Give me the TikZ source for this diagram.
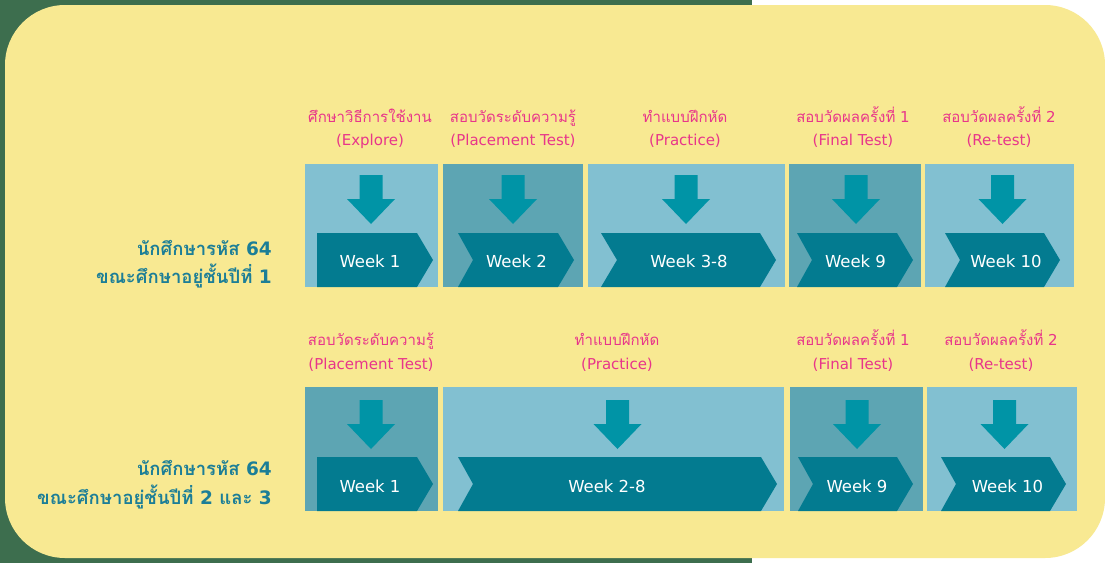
\documentclass[tikz,border=0pt]{standalone}
\usepackage{fontspec}
\setmainfont{DejaVu Sans}
\newfontfamily\thaifont[Script=Thai]{Loma}
\newcommand\thx[1]{{\thaifont #1}}
\definecolor{bgreen}{HTML}{3D6E4E}
\definecolor{byellow}{HTML}{F8E992}
\definecolor{lightp}{HTML}{82C0D1}
\definecolor{darkp}{HTML}{5DA5B3}
\definecolor{chevcol}{HTML}{037B90}
\definecolor{arrcol}{HTML}{0094A6}
\definecolor{pinkt}{HTML}{E8358A}
\definecolor{tealt}{HTML}{1C7E97}
\newcommand\mychev[5]{% left, notch, right, top, bottom
  \fill[chevcol] (#1,#4) -- (#3,#4) -- ({#3+16},{(#4+#5)/2}) -- (#3,#5) -- (#1,#5) -- ({#1+#2},{(#4+#5)/2}) -- cycle;}
\newcommand\myarrow[2]{% center x, top y
  \fill[arrcol] ({#1-11.5},#2) -- ({#1+11.5},#2) -- ({#1+11.5},{#2+24}) -- ({#1+24},{#2+24}) -- (#1,{#2+49}) -- ({#1-24},{#2+24}) -- ({#1-11.5},{#2+24}) -- cycle;}
\tikzset{
  panel/.style={anchor=north west, inner sep=0pt, outer sep=0pt},
  pinklbl/.style={anchor=base, inner sep=0pt, text=pinkt, font=\fontsize{15}{17}\selectfont},
  weektxt/.style={anchor=base, inner sep=0pt, text=white, font=\fontsize{16.5}{20}\selectfont},
  lefttxt/.style={anchor=base east, inner sep=0pt, text=tealt, font=\bfseries\fontsize{18.5}{20}\selectfont},
}
\begin{document}
\begin{tikzpicture}[x=1pt,y=-1pt]
\useasboundingbox (0,0) rectangle (1105,563);
\fill[bgreen] (0,0) rectangle (752,563);
\fill[white] (752,0) rectangle (1105,563);
\fill[byellow, rounded corners=60pt] (5,5) rectangle (1105,558);

% row 1 panels
\node[panel, fill=lightp, minimum width=133pt, minimum height=123pt] (a1) at (305,164) {};
\node[panel, fill=darkp, minimum width=140pt, minimum height=123pt] (a2) at (443,164) {};
\node[panel, fill=lightp, minimum width=197pt, minimum height=123pt] (a3) at (588,164) {};
\node[panel, fill=darkp, minimum width=132pt, minimum height=123pt] (a4) at (789,164) {};
\node[panel, fill=lightp, minimum width=149pt, minimum height=123pt] (a5) at (925,164) {};
% row 2 panels
\node[panel, fill=darkp, minimum width=133pt, minimum height=124pt] (b1) at (305,387) {};
\node[panel, fill=lightp, minimum width=341pt, minimum height=124pt] (b2) at (443,387) {};
\node[panel, fill=darkp, minimum width=133pt, minimum height=124pt] (b3) at (790,387) {};
\node[panel, fill=lightp, minimum width=150pt, minimum height=124pt] (b4) at (927,387) {};

% arrows
\myarrow{371}{175}
\myarrow{513}{175}
\myarrow{686}{175}
\myarrow{856}{175}
\myarrow{1002.5}{175}
\myarrow{371}{400}
\myarrow{617.5}{400}
\myarrow{857}{400}
\myarrow{1004.5}{400}

% chevrons
\mychev{317}{0}{417}{233}{287}
\mychev{458}{15}{558}{233}{287}
\mychev{601}{16}{760}{233}{287}
\mychev{797}{15}{897}{233}{287}
\mychev{945}{15}{1044}{233}{287}
\mychev{317}{0}{417}{457}{511}
\mychev{458}{15}{761}{457}{511}
\mychev{798}{15}{897}{457}{511}
\mychev{941}{15}{1050}{457}{511}

% week texts
\node[weektxt] (w11) at (370,267) {Week 1};
\node[weektxt] (w12) at (516.5,267) {Week 2};
\node[weektxt] (w13) at (689,267) {Week 3-8};
\node[weektxt] (w14) at (855.5,267) {Week 9};
\node[weektxt] (w15) at (1006,267) {Week 10};
\node[weektxt] (w21) at (370,492) {Week 1};
\node[weektxt] (w22) at (607,492) {Week 2-8};
\node[weektxt] (w23) at (857,492) {Week 9};
\node[weektxt] (w24) at (1007.5,492) {Week 10};

% pink labels row 1
\node[pinklbl] (l11a) at (370,122) {\thx{ศึกษาวิธีการใช้งาน}};
\node[pinklbl] (l11b) at (370,145) {(Explore)};
\node[pinklbl] (l12a) at (513,122) {\thx{สอบวัดระดับความรู้}};
\node[pinklbl] (l12b) at (513,145) {(Placement Test)};
\node[pinklbl] (l13a) at (685,122) {\thx{ทำแบบฝึกหัด}};
\node[pinklbl] (l13b) at (685,145) {(Practice)};
\node[pinklbl] (l14a) at (853,122) {\thx{สอบวัดผลครั้งที่} 1};
\node[pinklbl] (l14b) at (853,145) {(Final Test)};
\node[pinklbl] (l15a) at (999,122) {\thx{สอบวัดผลครั้งที่} 2};
\node[pinklbl] (l15b) at (999,145) {(Re-test)};
% pink labels row 2
\node[pinklbl] (l21a) at (371,345) {\thx{สอบวัดระดับความรู้}};
\node[pinklbl] (l21b) at (371,369) {(Placement Test)};
\node[pinklbl] (l22a) at (617,345) {\thx{ทำแบบฝึกหัด}};
\node[pinklbl] (l22b) at (617,369) {(Practice)};
\node[pinklbl] (l23a) at (853,345) {\thx{สอบวัดผลครั้งที่} 1};
\node[pinklbl] (l23b) at (853,369) {(Final Test)};
\node[pinklbl] (l24a) at (1001,345) {\thx{สอบวัดผลครั้งที่} 2};
\node[pinklbl] (l24b) at (1001,369) {(Re-test)};

% left labels
\node[lefttxt] (g1a) at (272,255) {\thx{นักศึกษารหัส} 64};
\node[lefttxt] (g1b) at (272,283) {\thx{ขณะศึกษาอยู่ชั้นปีที่} 1};
\node[lefttxt] (g2a) at (272,475) {\thx{นักศึกษารหัส} 64};
\node[lefttxt] (g2b) at (272,504) {\thx{ขณะศึกษาอยู่ชั้นปีที่} 2 \thx{และ} 3};
\end{tikzpicture}
\end{document}
